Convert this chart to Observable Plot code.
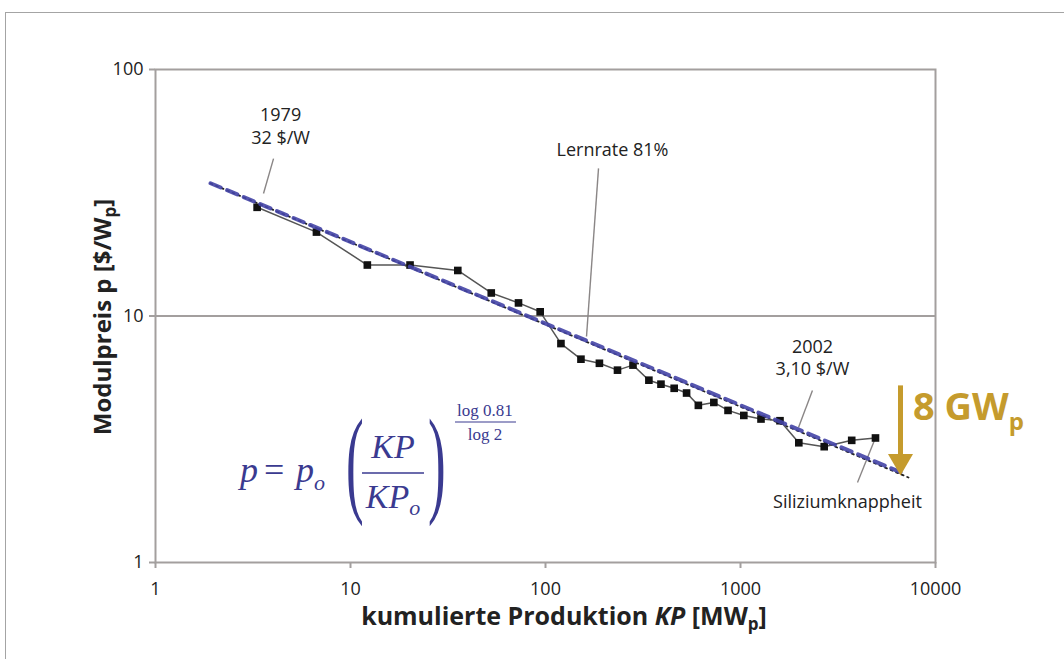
<!DOCTYPE html>
<html><head><meta charset="utf-8">
<script src="https://cdn.jsdelivr.net/npm/d3@7"></script>
<script src="https://cdn.jsdelivr.net/npm/@observablehq/plot@0.6"></script>
<style>
body{margin:0;background:#fff;overflow:hidden}
#wrap{position:relative;width:1064px;height:659px;overflow:hidden;background:#fff}
#border{position:absolute;left:5px;top:12px;width:1200px;height:1000px;border:1.5px solid #a4a4a4;}
#chart{position:absolute;left:0;top:0}
</style></head><body>
<div id="wrap"><div id="border"></div><div id="chart"></div></div>
<script>
// cumulative production KP [MWp] and module price [$/Wp]
const kp = [3.32, 6.69, 12.2, 20.2, 35.5, 52.7, 72.7, 93.9, 120, 152, 189, 234, 281, 339, 391, 457, 529, 608, 730, 863, 1040, 1274, 1594, 1991, 2687, 3718, 4923];
const price = [27.6, 21.9, 16.1, 16.1, 15.3, 12.4, 11.3, 10.4, 7.73, 6.68, 6.43, 6.03, 6.32, 5.49, 5.29, 5.09, 4.87, 4.34, 4.46, 4.14, 3.95, 3.82, 3.76, 3.06, 2.95, 3.13, 3.20];
// learning curve (81 %) lines
const fitKP = [1.915, 6614];
const fitP = [34.56, 2.325];
const fit2KP = [1.915, 7270];
const fit2P = [34.5, 2.212];
// ticks
const xTicks = [1, 10, 100, 1000, 10000];
const yTicks = [1, 10, 100];
// annotations
const labelText = ["1979", "32 $/W", "Lernrate 81%", "2002", "3,10 $/W", "Siliziumknappheit"];
const labelKP = [4.38, 4.38, 220.6, 2339, 2339, 3537];
const labelP = [65.1, 52.5, 46.9, 7.45, 6.07, 1.751];
const leaderKP1 = [4.03, 187, 2339, 4923];
const leaderP1 = [43.5, 39.7, 4.99, 3.21];
const leaderKP2 = [3.58, 162.3, 1983, 3981];
const leaderP2 = [31.4, 8.26, 3.53, 2.11];
// 8 GWp arrow
const arrowKP = [6614];
const arrowTop = [5.23];
const arrowBase = [2.717];
const arrowHead = [2.578];
const gwKP = 7711, gwP = 3.77;
// formula anchor (left end of fraction bar)
const formulaKP = 11.52, formulaP = 2.296;

const pts = kp.map((k, i) => ({k, p: price[i]}));
const fit = fitKP.map((k, i) => ({k, p: fitP[i]}));
const fit2 = fit2KP.map((k, i) => ({k, p: fit2P[i]}));
const labels = labelText.map((t, i) => ({t, k: labelKP[i], p: labelP[i]}));
const leaders = leaderKP1.map((k, i) => ({k1: k, p1: leaderP1[i], k2: leaderKP2[i], p2: leaderP2[i]}));
const arrow = arrowKP.map((k, i) => ({k, top: arrowTop[i], base: arrowBase[i], head: arrowHead[i]}));

const gray = "#a39f9e";
const gold = "#c59b2d";
const blue = "#4444a6";
const navy = "#3a3a90";

const plot = Plot.plot({
  width: 1064, height: 659,
  marginLeft: 155, marginRight: 129, marginTop: 69, marginBottom: 97,
  style: {fontFamily: "'Open Sans', sans-serif", fontSize: "18px", color: "#222", background: "transparent"},
  x: {type: "log", domain: [1, 10000]},
  y: {type: "log", domain: [1, 100]},
  marks: [
    Plot.ruleY([10], {stroke: gray, strokeWidth: 2}),
    Plot.frame({stroke: gray, strokeWidth: 2}),
    Plot.axisX({ticks: xTicks, tickFormat: d => String(d), tickSize: 6, tickPadding: 14, stroke: gray, strokeWidth: 2, fill: "#222", label: null}),
    Plot.axisY({ticks: yTicks, tickFormat: d => String(d), tickSize: 6, tickPadding: 6, stroke: gray, strokeWidth: 2, fill: "#222", label: null}),
    Plot.link(leaders, {x1: "k1", y1: "p1", x2: "k2", y2: "p2", stroke: "#8a8686", strokeWidth: 1.4}),
    Plot.line(fit2, {x: "k", y: "p", stroke: "#222", strokeWidth: 1.8, strokeDasharray: "2,4"}),
    Plot.line(pts, {x: "k", y: "p", stroke: "#555", strokeWidth: 1.5}),
    Plot.dot(pts, {x: "k", y: "p", symbol: "square", r: 4.3, fill: "#111", stroke: "none"}),
    Plot.line(fit, {x: "k", y: "p", stroke: blue, strokeWidth: 4, strokeDasharray: "11,7", strokeOpacity: 0.9}),
    Plot.link(arrow, {x1: "k", x2: "k", y1: "top", y2: "base", stroke: gold, strokeWidth: 5}),
    Plot.dot(arrow, {x: "k", y: "head", symbol: "triangle", r: 9.3, rotate: 180, fill: gold, stroke: "none"}),
    Plot.text(labels, {x: "k", y: "p", text: "t", fontSize: 18, fill: "#222", textAnchor: "middle", lineAnchor: "middle"})
  ]
});
document.getElementById("chart").appendChild(plot);

const svg = d3.select(plot);
const sx = plot.scale("x"), sy = plot.scale("y");

// axis titles
const xl = svg.append("text").attr("x", 564).attr("y", 625).attr("text-anchor", "middle")
  .attr("font-family", "'Open Sans', sans-serif").attr("font-size", 25).attr("font-weight", "bold").attr("fill", "#222");
xl.append("tspan").text("kumulierte Produktion ");
xl.append("tspan").attr("font-style", "italic").text("KP");
xl.append("tspan").text(" [MW");
xl.append("tspan").attr("font-size", 17).attr("dy", 5).text("p");
xl.append("tspan").attr("dy", -5).text("]");

const yl = svg.append("text").attr("transform", "translate(103,317) rotate(-90)").attr("text-anchor", "middle").attr("dy", "0.35em")
  .attr("font-family", "'Open Sans', sans-serif").attr("font-size", 24).attr("font-weight", "bold").attr("fill", "#222");
yl.append("tspan").text("Modulpreis p [$/W");
yl.append("tspan").attr("font-size", 17).attr("dy", 5).text("p");
yl.append("tspan").attr("dy", -5).text("]");

// 8 GWp label
const gx = sx.apply(gwKP), gy = sy.apply(gwP);
const gt = svg.append("text").attr("x", gx).attr("y", gy).attr("text-anchor", "start")
  .attr("font-family", "'Open Sans', sans-serif").attr("font-size", 38).attr("font-weight", "bold").attr("fill", gold);
gt.append("tspan").text("8 GW");
gt.append("tspan").attr("font-size", 24).attr("dy", 10).text("p");

// formula
const X0 = sx.apply(formulaKP), Y0 = sy.apply(formulaP);
const f = svg.append("g").attr("fill", navy).attr("text-anchor", "start").attr("font-family", "'Liberation Serif', 'Times New Roman', serif");
function t(x, y, size, str, opts = {}) {
  const e = f.append("text").attr("x", x).attr("y", y).attr("font-size", size).text(str);
  if (opts.italic) e.attr("font-style", "italic");
  e.attr("text-anchor", opts.anchor || "start");
  return e;
}
t(X0 - 122, Y0 + 9, 36, "p", {italic: true});
t(X0 - 98, Y0 + 9, 36, "=");
t(X0 - 66, Y0 + 9, 36, "p", {italic: true});
t(X0 - 48, Y0 + 17, 22, "o", {italic: true});
f.append("text").attr("text-anchor", "start").attr("transform", `translate(${X0 - 16},${Y0 + 28}) scale(0.45,1)`).attr("font-size", 118).text("(");
t(X0 + 31, Y0 - 15, 34, "KP", {italic: true, anchor: "middle"});
f.append("line").attr("x1", X0).attr("x2", X0 + 62).attr("y1", Y0).attr("y2", Y0).attr("stroke", navy).attr("stroke-width", 1.6);
const den = f.append("text").attr("x", X0 + 31).attr("y", Y0 + 35).attr("font-size", 34).attr("font-style", "italic").attr("text-anchor", "middle");
den.append("tspan").text("KP");
den.append("tspan").attr("font-size", 22).attr("dy", 7).text("o");
f.append("text").attr("text-anchor", "start").attr("transform", `translate(${X0 + 66},${Y0 + 28}) scale(0.45,1)`).attr("font-size", 118).text(")");
t(X0 + 123, Y0 - 57, 17, "log 0.81", {anchor: "middle"});
f.append("line").attr("x1", X0 + 93).attr("x2", X0 + 154).attr("y1", Y0 - 51).attr("y2", Y0 - 51).attr("stroke", navy).attr("stroke-width", 1.2);
t(X0 + 123, Y0 - 33, 17, "log 2", {anchor: "middle"});
</script>
</body></html>
